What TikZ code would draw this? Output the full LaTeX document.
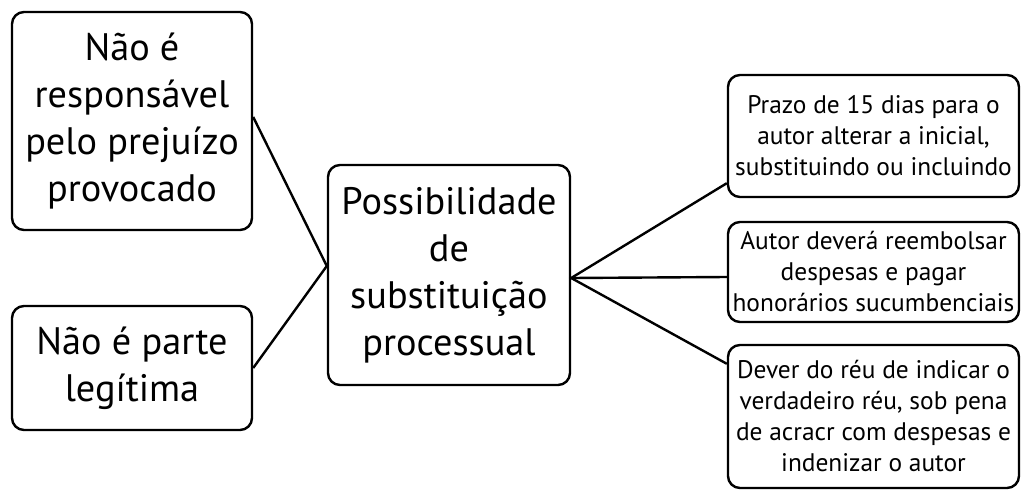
\documentclass[tikz,border=0pt]{standalone}
\usepackage{fontspec}
\setmainfont{PT Sans}
\usetikzlibrary{calc}
\begin{document}
\begin{tikzpicture}[x=1pt,y=-1pt,
  box/.style={draw=black,line width=2.4pt,rounded corners=12pt,align=center,inner sep=0pt},
  big/.style={box,font=\fontsize{38.3}{47}\selectfont},
  small/.style={box,font=\fontsize{25.4}{31}\selectfont},
  link/.style={draw=black,line width=2.4pt}]
\useasboundingbox (0,0) rectangle (1021,490);
\node[big,minimum width=240pt,minimum height=218pt] (tl) at (132,121) {Não é\\responsável\\pelo prejuízo\\provocado};
\node[big,minimum width=240pt,minimum height=124pt] (bl) at (132,368) {Não é parte\\legítima};
\node[big,minimum width=242pt,minimum height=220pt] (c) at (449,275) {Possibilidade\\de\\substituição\\processual};
\node[small,minimum width=291pt,minimum height=122pt] (r1) at (873.5,136) {Prazo de 15 dias para o\\autor alterar a inicial,\\substituindo ou incluindo};
\node[small,minimum width=291pt,minimum height=100pt] (r2) at (873.5,272) {Autor deverá reembolsar\\despesas e pagar\\honorários sucumbenciais};
\node[small,minimum width=291pt,minimum height=143pt] (r3) at (873.5,416.5) {Dever do réu de indicar o\\verdadeiro réu, sob pena\\de acracr com despesas e\\indenizar o autor};
\coordinate (tlout) at ($(tl.east)+(0,-4)$);
\coordinate (cin) at ($(c.west)+(0,-9)$);
\coordinate (cout) at ($(c.east)+(0,3)$);
\coordinate (r1in) at ($(r1.south west)+(0,-15)$);
\coordinate (r2in) at ($(r2.west)+(0,5)$);
\coordinate (r3in) at ($(r3.north west)+(0,20)$);
\draw[link] (tlout) -- (cin) -- (bl.east);
\draw[link] (r1in) -- (cout) -- (r3in);
\draw[link] (cout) -- (r2in);
\end{tikzpicture}
\end{document}
